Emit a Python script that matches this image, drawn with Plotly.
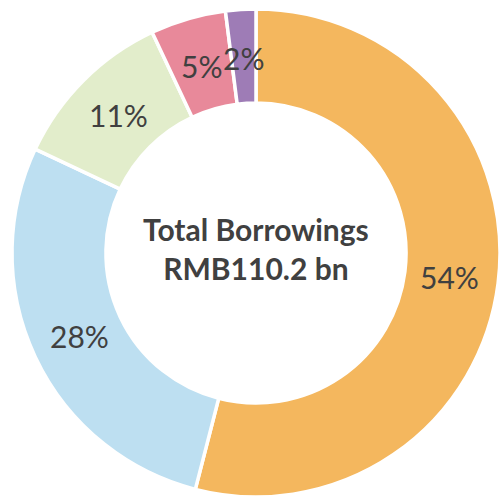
import math
import plotly.graph_objects as go

# Borrowings breakdown by share (%)
categories = ["A", "B", "C", "D", "E"]
shares = [54, 28, 11, 5, 2]
colors = ["#F4B75E", "#BDDFF1", "#E2EDCB", "#E8899A", "#9E7CB6"]
center_lines = ["Total Borrowings", "RMB110.2 bn"]

W, H = 501, 497
cx, cy, r = 256, 253, 244
hole = 0.615

fig = go.Figure(
    go.Pie(
        labels=categories,
        values=shares,
        hole=hole,
        sort=False,
        direction="clockwise",
        rotation=0,
        marker=dict(colors=colors, line=dict(color="white", width=3.5)),
        textinfo="none",
        hoverinfo="label+percent",
        showlegend=False,
        domain=dict(x=[(cx - r) / W, (cx + r) / W],
                    y=[(H - cy - r) / H, (H - cy + r) / H]),
    )
)

# Percentage labels placed at the middle of the ring, at each slice's mid-angle
total = sum(shares)
ring_mid = r * (1 + hole) / 2 - 2
cum = 0
for v in shares:
    theta = 2 * math.pi * (cum + v / 2) / total
    cum += v
    fig.add_annotation(
        x=(cx + ring_mid * math.sin(theta)) / W,
        y=(H - cy + ring_mid * math.cos(theta)) / H,
        xref="paper", yref="paper",
        text=f"{v}%", showarrow=False,
        font=dict(family="Lato", size=30, color="#404040"),
        xanchor="center", yanchor="middle",
    )

fig.add_annotation(
    x=cx / W, y=(H - 248) / H, xref="paper", yref="paper",
    text="<b>" + "<br>".join(center_lines) + "</b>",
    showarrow=False,
    font=dict(family="Lato", size=30, color="#404040"),
    align="center",
)

fig.update_layout(
    width=W, height=H,
    margin=dict(l=0, r=0, t=0, b=0),
    paper_bgcolor="white",
)

fig.write_html("out.html")
